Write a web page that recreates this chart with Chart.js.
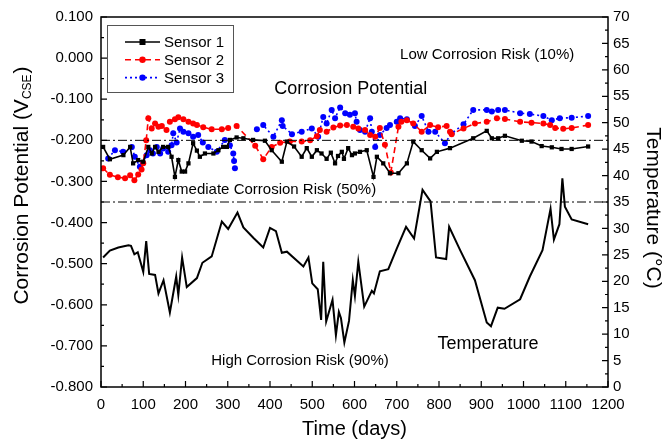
<!DOCTYPE html>
<html>
<head>
<meta charset="utf-8">
<script src="https://cdn.jsdelivr.net/npm/chart.js@4.4.1/dist/chart.umd.min.js"></script>
<style>
  html, body { margin: 0; padding: 0; background: #fff; }
  #wrap { width: 669px; height: 441px; }
</style>
</head>
<body>
<div id="wrap"><canvas id="corrosionChart" width="669" height="441"></canvas></div>
<script>
// Sensor 1 (black squares)
const days1 = [5, 21, 53, 69, 76, 88, 100, 112, 120, 128, 136, 147, 159, 167, 175, 183, 191, 199, 207, 218,
  227, 234, 246, 266, 278, 289, 298, 305, 321, 337, 360, 388, 404, 428, 440, 457, 475, 487, 499, 511,
  522, 534, 544, 554, 561, 570, 575, 585, 594, 601, 613, 629, 645, 653, 668, 684, 704, 724, 739, 759,
  779, 795, 826, 881, 913, 925, 940, 956, 996, 1019, 1043, 1067, 1090, 1114, 1153];
const volts1 = [-0.216, -0.246, -0.236, -0.216, -0.256, -0.248, -0.252, -0.216, -0.232, -0.216, -0.228, -0.216, -0.216, -0.240, -0.289, -0.248, -0.276, -0.276, -0.256, -0.207,
  -0.225, -0.240, -0.232, -0.232, -0.224, -0.216, -0.216, -0.199, -0.193, -0.195, -0.199, -0.201, -0.224, -0.252, -0.203, -0.215, -0.240, -0.219, -0.240, -0.224,
  -0.232, -0.245, -0.230, -0.256, -0.238, -0.228, -0.245, -0.219, -0.236, -0.232, -0.228, -0.224, -0.289, -0.240, -0.256, -0.280, -0.280, -0.256, -0.203, -0.224,
  -0.244, -0.228, -0.219, -0.195, -0.177, -0.195, -0.195, -0.189, -0.201, -0.203, -0.214, -0.217, -0.221, -0.221, -0.215];

// Sensor 2 (red circles, dashed)
const days2 = [5, 21, 40, 57, 69, 79, 88, 96, 100, 107, 112, 120, 128, 136, 144, 155, 163, 175, 183, 195,
  207, 218, 227, 242, 262, 286, 301, 321, 365, 384, 404, 424, 447, 475, 495, 511, 518, 534, 550, 566,
  582, 597, 609, 625, 637, 649, 660, 672, 686, 704, 711, 724, 739, 759, 779, 798, 818, 826, 830, 858,
  885, 913, 937, 956, 992, 1019, 1047, 1063, 1075, 1094, 1114, 1153];
const volts2 = [-0.268, -0.284, -0.290, -0.292, -0.285, -0.297, -0.283, -0.271, -0.256, -0.200, -0.146, -0.171, -0.159, -0.167, -0.165, -0.175, -0.155, -0.149, -0.144, -0.149,
  -0.155, -0.159, -0.163, -0.168, -0.173, -0.173, -0.170, -0.165, -0.213, -0.246, -0.216, -0.206, -0.203, -0.203, -0.200, -0.190, -0.175, -0.179, -0.169, -0.164,
  -0.163, -0.167, -0.171, -0.175, -0.187, -0.191, -0.170, -0.211, -0.278, -0.167, -0.155, -0.151, -0.159, -0.179, -0.163, -0.168, -0.165, -0.179, -0.185, -0.171,
  -0.159, -0.155, -0.146, -0.148, -0.155, -0.157, -0.159, -0.163, -0.170, -0.172, -0.170, -0.163];

// Sensor 3 (blue circles, dotted); null = gap in record
const days3 = [17, 33, 52, 73, 80, 92, 99, 108, 116, 123, 132, 140, 147, 159, 167, 171, 179, 187, 195, 207,
  218, 230, 241, 254, 274, 293, 305, 313, 315, 317, 340, 369, 384, 408, 428, 430, 452, 475, 499, 514,
  526, 534, 546, 554, 566, 578, 589, 601, 605, 613, 625, 637, 641, 649, 660, 676, 684, 700, 708, 724,
  743, 759, 775, 791, 814, 830, 858, 881, 913, 925, 940, 956, 992, 1015, 1047, 1067, 1086, 1114, 1153];
const volts3 = [-0.244, -0.224, -0.228, -0.216, -0.240, -0.264, -0.255, -0.236, -0.224, -0.232, -0.216, -0.232, -0.220, -0.228, -0.212, -0.183, -0.205, -0.171, -0.179, -0.183,
  -0.191, -0.187, -0.205, -0.216, -0.228, -0.199, -0.212, -0.232, -0.250, -0.268, null, -0.173, -0.163, -0.191, -0.151, -0.165, -0.185, -0.179, -0.171, -0.191,
  -0.143, -0.159, -0.126, -0.146, -0.120, -0.134, -0.138, -0.134, -0.155, -0.175, -0.179, -0.146, -0.179, -0.216, -0.187, -0.170, -0.163, -0.155, -0.146, -0.149,
  -0.165, -0.141, -0.179, -0.179, -0.207, -0.183, -0.161, -0.126, -0.126, -0.130, -0.126, -0.126, -0.134, -0.136, -0.141, -0.151, -0.146, -0.145, -0.141];

// Temperature (°C, right axis)
const tempDays = [5, 21, 41, 65, 71, 79, 87, 100, 107, 114, 128, 136, 148, 163, 178, 183, 192, 203, 227, 240,
  262, 286, 301, 323, 337, 361, 384, 400, 414, 428, 440, 479, 491, 500, 513, 521, 526, 533, 548, 556,
  563, 568, 576, 587, 596, 601, 609, 623, 641, 646, 660, 680, 700, 722, 741, 761, 780, 793, 817, 824,
  850, 885, 913, 923, 939, 955, 992, 1015, 1045, 1064, 1072, 1085, 1092, 1098, 1114, 1153];
const tempValues = [24.5, 25.8, 26.4, 26.8, 26.7, 25.1, 25.5, 21.8, 27.6, 21.4, 21.2, 17.7, 20.2, 14.1, 20.9, 17.4, 24.5, 18.9, 20.6, 23.5,
  24.7, 31.3, 29.9, 33.0, 30.2, 28.2, 26.4, 30.1, 29.5, 25.4, 25.6, 22.8, 24.5, 19.6, 18.5, 12.7, 23.7, 12.4, 16.5, 9.8,
  14.2, 13.0, 8.4, 12.5, 20.2, 17.2, 23.7, 15.2, 18.2, 17.7, 21.9, 22.3, 26.2, 30.3, 28.1, 37.3, 35.1, 24.5, 24.2, 30.3,
  25.9, 20.2, 12.2, 11.5, 15.0, 14.8, 16.6, 20.9, 25.9, 33.7, 27.9, 30.8, 39.5, 34.1, 31.7, 30.8];

// Risk thresholds (V_CSE)
const riskLevels = [-0.200, -0.350];

const FONT = "'Liberation Sans', Arial, sans-serif";

const toPoints = (xs, ys) => xs.map((d, i) => ({ x: d, y: ys[i] }));

const riskSets = riskLevels.map(level => ({
  label: 'risk ' + level,
  data: [{ x: 0, y: level }, { x: 1200, y: level }],
  yAxisID: 'y',
  borderColor: '#000',
  borderWidth: 1,
  borderDash: [9, 3, 2, 3],
  pointRadius: 0,
  fill: false
}));

const sensorSets = [
  {
    label: 'Sensor 1',
    data: toPoints(days1, volts1),
    yAxisID: 'y',
    borderColor: '#000',
    backgroundColor: '#000',
    borderWidth: 1.6,
    pointStyle: 'rect',
    pointRadius: 3,
    pointBorderWidth: 0
  },
  {
    label: 'Sensor 2',
    data: toPoints(days2, volts2),
    yAxisID: 'y',
    borderColor: '#ff0000',
    backgroundColor: '#ff0000',
    borderWidth: 1.6,
    borderDash: [6, 4],
    pointStyle: 'circle',
    pointRadius: 3,
    pointBorderWidth: 0
  },
  {
    label: 'Sensor 3',
    data: toPoints(days3, volts3),
    yAxisID: 'y',
    borderColor: '#0000ff',
    backgroundColor: '#0000ff',
    borderWidth: 1.6,
    borderDash: [2, 3],
    pointStyle: 'circle',
    pointRadius: 3,
    pointBorderWidth: 0
  }
];

const tempSet = {
  label: 'Temperature',
  data: toPoints(tempDays, tempValues),
  yAxisID: 'y1',
  borderColor: '#000',
  borderWidth: 2,
  pointRadius: 0,
  fill: false
};

// frame, inward ticks, titles, notes, legend
const decorations = {
  id: 'decorations',
  afterDraw(chart) {
    const { ctx, chartArea, scales } = chart;
    const { left, right, top, bottom } = chartArea;
    const x = scales.x, y = scales.y, y1 = scales.y1;
    ctx.save();
    ctx.strokeStyle = '#000';
    ctx.lineWidth = 1.5;
    ctx.setLineDash([]);
    ctx.strokeRect(left, top, right - left, bottom - top);

    ctx.lineWidth = 1.2;
    ctx.beginPath();
    for (let i = 0; i <= 24; i++) {
      const px = x.getPixelForValue(i * 50);
      const len = i % 2 === 0 ? 6 : 3;
      ctx.moveTo(px, bottom); ctx.lineTo(px, bottom - len);
    }
    for (let i = 0; i <= 18; i++) {
      const py = y.getPixelForValue(-0.8 + i * 0.05);
      const len = i % 2 === 0 ? 6 : 3;
      ctx.moveTo(left, py); ctx.lineTo(left + len, py);
    }
    for (let i = 0; i <= 28; i++) {
      const py = y1.getPixelForValue(i * 2.5);
      const len = i % 2 === 0 ? 6 : 3;
      ctx.moveTo(right, py); ctx.lineTo(right - len, py);
    }
    ctx.stroke();

    ctx.fillStyle = '#000';
    // x title
    ctx.font = '20px ' + FONT;
    ctx.textAlign = 'center';
    ctx.textBaseline = 'middle';
    ctx.fillText('Time (days)', (left + right) / 2, 429);

    // left title with subscript
    ctx.save();
    ctx.translate(22, 186);
    ctx.rotate(-Math.PI / 2);
    const main = 'Corrosion Potential (V';
    ctx.font = '21px ' + FONT;
    const w1 = ctx.measureText(main).width;
    ctx.font = '12px ' + FONT;
    const w2 = ctx.measureText('CSE').width;
    ctx.font = '21px ' + FONT;
    const w3 = ctx.measureText(')').width;
    let sx = -(w1 + w2 + w3) / 2;
    ctx.textAlign = 'left';
    ctx.fillText(main, sx, 0);
    ctx.font = '12px ' + FONT;
    ctx.fillText('CSE', sx + w1, 6);
    ctx.font = '21px ' + FONT;
    ctx.fillText(')', sx + w1 + w2 + 1, 0);
    ctx.restore();

    // right title
    ctx.save();
    ctx.translate(653, 208);
    ctx.rotate(Math.PI / 2);
    ctx.font = '21px ' + FONT;
    ctx.textAlign = 'center';
    ctx.fillText('Temperature (\u00B0C)', 0, 0);
    ctx.restore();

    // notes placed in data coordinates
    const notes = [
      { t: 'Corrosion Potential', d: 591, v: -0.075, s: 18 },
      { t: 'Low Corrosion Risk (10%)', d: 914, v: 0.0075, s: 15 },
      { t: 'Intermediate Corrosion Risk (50%)', d: 379, v: -0.321, s: 15 },
      { t: 'High Corrosion Risk (90%)', d: 471, v: -0.737, s: 15 },
      { t: 'Temperature', d: 916, v: -0.696, s: 18 }
    ];
    ctx.textAlign = 'center';
    notes.forEach(n => {
      ctx.font = n.s + 'px ' + FONT;
      ctx.fillText(n.t, x.getPixelForValue(n.d), y.getPixelForValue(n.v));
    });

    // legend
    ctx.fillStyle = '#fff';
    ctx.fillRect(107, 25, 126, 67);
    ctx.strokeStyle = '#555';
    ctx.lineWidth = 1;
    ctx.strokeRect(107.5, 25.5, 126, 67);
    sensorSets.forEach((ds, i) => {
      const ly = 42 + i * 17.8;
      ctx.strokeStyle = ds.borderColor;
      ctx.lineWidth = ds.borderWidth;
      ctx.setLineDash(ds.borderDash || []);
      ctx.beginPath();
      ctx.moveTo(125, ly); ctx.lineTo(160, ly);
      ctx.stroke();
      ctx.setLineDash([]);
      ctx.fillStyle = ds.backgroundColor;
      if (ds.pointStyle === 'rect') {
        ctx.fillRect(139.5, ly - 3, 6, 6);
      } else {
        ctx.beginPath(); ctx.arc(142.5, ly, 3.2, 0, Math.PI * 2); ctx.fill();
      }
      ctx.fillStyle = '#000';
      ctx.font = '15px ' + FONT;
      ctx.textAlign = 'left';
      ctx.fillText(ds.label, 164, ly + 1);
    });
    ctx.restore();
  }
};

new Chart(document.getElementById('corrosionChart'), {
  type: 'line',
  data: { datasets: [tempSet, ...riskSets, ...sensorSets] },
  options: {
    responsive: false,
    animation: false,
    spanGaps: false,
    layout: { padding: { top: 17, left: 0, right: 0, bottom: 0 } },
    plugins: { legend: { display: false }, tooltip: { enabled: false } },
    scales: {
      x: {
        type: 'linear', min: 0, max: 1200,
        grid: { display: false, drawTicks: false },
        border: { display: false },
        ticks: {
          stepSize: 100, padding: 9, color: '#000', font: { family: FONT, size: 15 },
          autoSkip: false, maxRotation: 0, minRotation: 0,
          callback: v => String(v)
        },
        afterFit(s) { s.height = 54; }
      },
      y: {
        type: 'linear', position: 'left', min: -0.8, max: 0.1,
        grid: { display: false, drawTicks: false },
        border: { display: false },
        ticks: {
          stepSize: 0.1, padding: 8, color: '#000', font: { family: FONT, size: 15 },
          callback: v => (Math.abs(v) < 1e-9 ? 0 : v).toFixed(3)
        },
        afterFit(s) { s.width = 101; }
      },
      y1: {
        type: 'linear', position: 'right', min: 0, max: 70,
        grid: { display: false, drawTicks: false },
        border: { display: false },
        ticks: { stepSize: 5, padding: 5, color: '#000', font: { family: FONT, size: 15 } },
        afterFit(s) { s.width = 61; }
      }
    }
  },
  plugins: [decorations]
});
</script>
</body>
</html>
